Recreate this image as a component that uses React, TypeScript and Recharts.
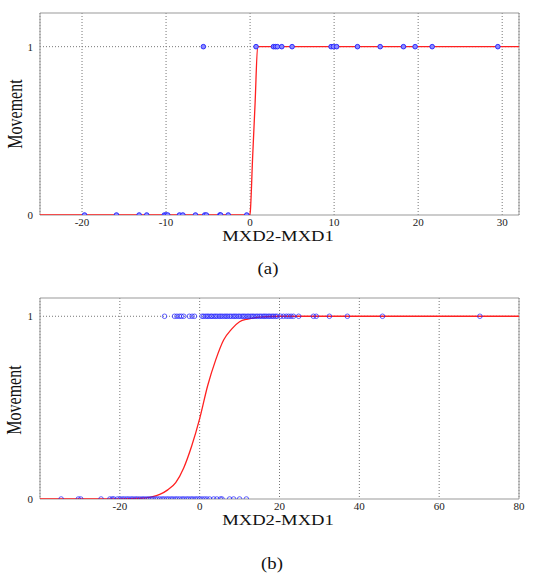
import React from 'react';
import { ComposedChart, Line, Scatter, XAxis, YAxis, CartesianGrid, ReferenceArea } from 'recharts';

// panel (a): observed differences, split by outcome
const aMovedX = [-5.56, 0.71, 2.78, 3.02, 3.25, 3.77, 5.0, 9.64, 9.92, 10.3, 12.78, 15.48, 18.25, 19.64, 21.67, 29.48];
const aStayedX = [-19.7, -15.9, -13.2, -12.3, -10.2, -10.0, -9.8, -8.4, -8.0, -6.5, -5.4, -5.2, -3.6, -3.5, -2.6, -0.4];
const aFitX = [-25, -0.1, 0, 0.3, 0.6, 0.9, 32];
const aFitY = [0, 0, 0.01, 0.34, 0.67, 1, 1];
const aTicks = [-20, -10, 0, 10, 20, 30];

// panel (b)
const bMovedX = [
  -8.8, -6.3, -5.7, -5.1, -4.6, -4.0, -2.6, -1.9, -1.3,
  0.6, 1.0, 1.5, 1.9, 2.3, 2.8, 3.1, 3.6, 4.0, 4.4, 4.9, 5.3, 5.7, 6.2, 6.6, 7.0, 7.5, 7.9, 8.4, 8.8,
  9.2, 9.7, 10.1, 10.6, 11.0, 11.4, 11.9, 12.3, 12.8, 13.2, 13.6, 14.1, 14.5, 15.0, 15.4, 15.9, 16.3,
  16.7, 17.2, 17.6, 18.1, 18.5, 19.0, 19.4, 20.3, 21.0, 21.7, 22.3, 22.9, 23.5, 24.8, 28.5, 29.2,
  32.5, 37.0, 45.8, 70.2,
];
const bStayedX = [
  -34.7, -30.4, -29.8, -24.7, -22.5, -21.9, -21.5, -20.6, -20.0, -19.4, -18.9, -18.3, -17.8, -17.2,
  -16.7, -16.1, -15.6, -15.0, -14.4, -13.9, -13.3, -12.8, -12.2, -11.7, -11.1, -10.6, -10.0, -9.4,
  -8.9, -8.3, -7.8, -7.2, -6.7, -6.1, -5.6, -5.0, -4.4, -3.9, -3.3, -2.8, -2.2, -1.7, -1.1, -0.6,
  0.0, 0.6, 1.2, 1.8, 2.5, 3.5, 4.3, 5.2, 5.6, 7.5, 8.5, 10.0, 11.7,
];
const bFitX = [-40, -20, -15, -12, -10, -8, -6, -4, -2, 0, 2, 4, 6, 8, 10, 12, 15, 20, 80];
const bFitY = [0, 0.001, 0.004, 0.012, 0.025, 0.05, 0.09, 0.17, 0.29, 0.44, 0.62, 0.76, 0.87, 0.93, 0.97, 0.985, 0.995, 1, 1];
const bTicks = [-20, 0, 20, 40, 60, 80];

const serif = '"Liberation Serif", Tinos, "DejaVu Serif", serif';

const pts = (xs: number[], y: number) => xs.map((x) => ({ x, y }));
const curve = (xs: number[], ys: number[]) => xs.map((x, i) => ({ x, y: ys[i] }));

const tickStyle = { fontFamily: serif, fontSize: 11, fill: '#222' };

function Panel({ top, marginTop, plotHeight, xDomain, yMax, ticks, moved, stayed, fit, filled }: any) {
  const markerFill = filled ? '#8c8cff' : 'none';
  const Dot = (p: any) => (
    <circle cx={p.cx} cy={p.cy} r={2.3} fill={markerFill} stroke="#1f1fff" strokeWidth={filled ? 0.9 : 0.7} />
  );
  return (
    <div style={{ position: 'absolute', left: 0, top }}>
      <ComposedChart width={543} height={250} margin={{ top: marginTop, right: 24, left: 0, bottom: 0 }}>
        <CartesianGrid stroke="#777" strokeDasharray="1 2" horizontalValues={[1]} />
        <XAxis
          type="number"
          dataKey="x"
          domain={xDomain}
          ticks={ticks}
          allowDataOverflow
          axisLine={false}
          tickLine={false}
          tickMargin={-3}
          tick={tickStyle}
          height={250 - marginTop - plotHeight}
        />
        <YAxis
          type="number"
          dataKey="y"
          domain={[0, yMax]}
          ticks={[0, 1]}
          allowDataOverflow
          axisLine={false}
          tickLine={false}
          tickMargin={1}
          tick={tickStyle}
          width={40}
        />
        <ReferenceArea x1={xDomain[0]} x2={xDomain[1]} y1={0} y2={yMax} fill="none" stroke="#999" strokeWidth={1} />
        <Line data={fit} dataKey="y" type="monotone" stroke="#ff2020" strokeWidth={1.3} dot={false} isAnimationActive={false} />
        <Scatter data={moved} dataKey="y" shape={Dot} isAnimationActive={false} />
        <Scatter data={stayed} dataKey="y" shape={Dot} isAnimationActive={false} />
      </ComposedChart>
    </div>
  );
}

const label = (text: string, left: number, top: number, size: number, transform: string) => (
  <div
    style={{
      position: 'absolute',
      left,
      top,
      transform: `translate(-50%, -50%) ${transform}`,
      fontFamily: serif,
      fontSize: size,
      color: '#111',
      whiteSpace: 'nowrap',
      lineHeight: 0.8,
    }}
  >
    {text}
  </div>
);

export default function App() {
  return (
    <div style={{ position: 'absolute', left: 0, top: 0, width: 543, height: 579, background: '#fff' }}>
      <Panel
        top={0}
        marginTop={13}
        plotHeight={202}
        xDomain={[-25, 32]}
        yMax={1.2}
        ticks={aTicks}
        moved={pts(aMovedX, 1)}
        stayed={pts(aStayedX, 0)}
        fit={curve(aFitX, aFitY)}
        filled
      />
      {label('Movement', 16, 114, 16, 'scaleX(1.25) rotate(-90deg)')}
      {label('MXD2-MXD1', 278, 236, 15.5, 'scaleX(1.2)')}
      {label('(a)', 268, 269, 17, 'scaleX(1.1)')}

      <Panel
        top={280}
        marginTop={18}
        plotHeight={201}
        xDomain={[-40, 80]}
        yMax={1.1}
        ticks={bTicks}
        moved={pts(bMovedX, 1)}
        stayed={pts(bStayedX, 0)}
        fit={curve(bFitX, bFitY)}
      />
      {label('Movement', 15, 400, 16, 'scaleX(1.25) rotate(-90deg)')}
      {label('MXD2-MXD1', 278, 520, 15.5, 'scaleX(1.2)')}
      {label('(b)', 272, 564, 17, 'scaleX(1.1)')}
    </div>
  );
}
